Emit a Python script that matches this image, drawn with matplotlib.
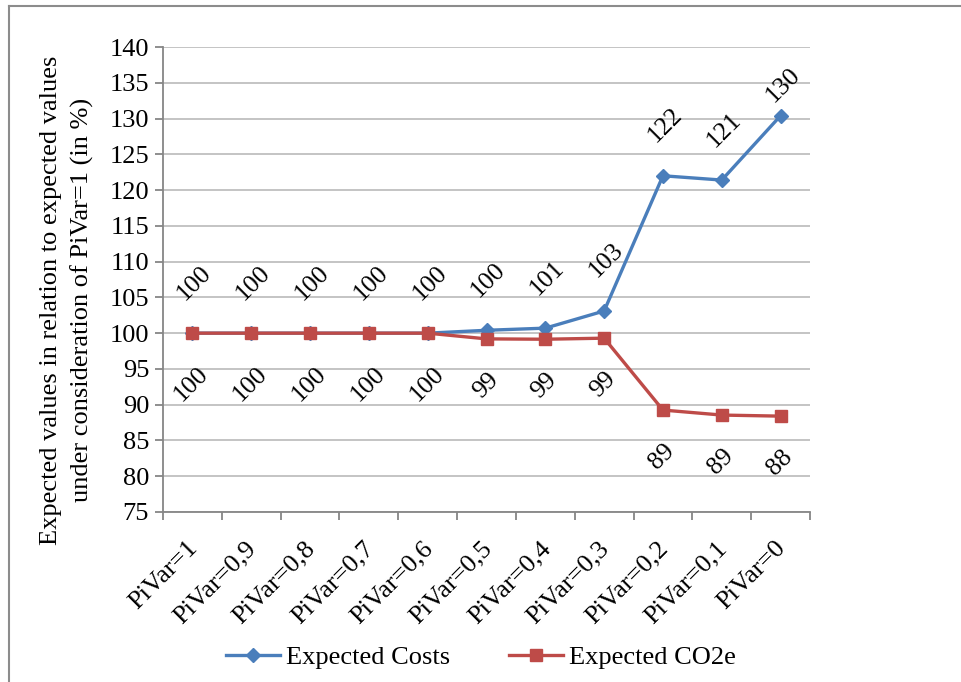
import matplotlib
matplotlib.use("Agg")
import matplotlib.pyplot as plt
from matplotlib.lines import Line2D

plt.rcParams['font.family'] = ['Liberation Serif', 'DejaVu Serif']
plt.rcParams['font.size'] = 19

# PiVar steps and expected values relative to PiVar=1 (in %)
categories = ['PiVar=1', 'PiVar=0,9', 'PiVar=0,8', 'PiVar=0,7', 'PiVar=0,6', 'PiVar=0,5',
              'PiVar=0,4', 'PiVar=0,3', 'PiVar=0,2', 'PiVar=0,1', 'PiVar=0']
costs = [100, 100, 100, 100, 100, 100.4, 100.7, 103.1, 122.0, 121.4, 130.4]
co2e = [100, 100, 100, 100, 100, 99.2, 99.15, 99.3, 89.25, 88.55, 88.4]
yticks = list(range(75, 141, 5))

blue = '#4A7EBB'
red = '#BE4B48'
axis_gray = '#868686'

fig = plt.figure(figsize=(9.62, 6.82), dpi=100)
ax = fig.add_axes([163/962, 1 - 512/682, (810 - 163)/962, (512 - 47)/682])

x = range(len(categories))
ax.plot(x, costs, color=blue, lw=2.4, marker='D', ms=7.5, zorder=3, label='Expected Costs')
ax.plot(x, co2e, color=red, lw=2.4, marker='s', ms=9, zorder=3, label='Expected CO2e')

ax.set_xlim(-0.5, len(categories) - 0.5)
ax.set_ylim(75, 140)

# data labels: costs above, CO2e below; labels near the top are kept inside the chart
label_ceiling = 682 - 107
for i in x:
    y_disp = ax.transData.transform((i, costs[i]))[1]
    off = min(29, label_ceiling - y_disp)
    ax.annotate(f'{costs[i]:.0f}', (i, costs[i]), xytext=(2, off), textcoords='offset pixels',
                rotation=45, ha='center', va='bottom', fontsize=18.5)
    ax.annotate(f'{co2e[i]:.0f}', (i, co2e[i]), xytext=(-1, -30), textcoords='offset pixels',
                rotation=45, ha='center', va='top', fontsize=18.5)

# category labels, slanted under each slot
ax.set_xticks(list(x))
ax.set_xticklabels([])
for i, cat in zip(x, categories):
    ax.annotate(cat, (i, 0), xycoords=ax.get_xaxis_transform(), xytext=(-6, -25),
                textcoords='offset pixels', rotation=45, ha='right', va='top',
                rotation_mode='anchor', fontsize=19)

ax.set_yticks(yticks)
ax.set_xticks([i - 0.5 for i in range(len(categories) + 1)], minor=True)
ax.tick_params(axis='x', which='major', length=0)
ax.tick_params(axis='x', which='minor', length=6, color=axis_gray, width=1.3)
ax.tick_params(axis='y', length=6, color=axis_gray, width=1.3, pad=4)

ax.yaxis.grid(True, color='#BFBFBF', lw=1.3)
ax.set_axisbelow(True)
for side in ['top', 'right']:
    ax.spines[side].set_visible(False)
for side in ['left', 'bottom']:
    ax.spines[side].set_color(axis_gray)
    ax.spines[side].set_linewidth(1.3)

fig.text(67/962, 1 - 300/682,
         'Expected values in relation to expected values\nunder consideration of PiVar=1 (in %)',
         rotation=90, ha='center', va='center', fontsize=19, linespacing=1.45)

handles = [Line2D([], [], color=blue, lw=2.4, marker='D', ms=7.5),
           Line2D([], [], color=red, lw=2.4, marker='s', ms=9)]
fig.legend(handles, ['Expected Costs', 'Expected CO2e'], loc='center',
           bbox_to_anchor=(481/962, 1 - 657/682), ncol=2, frameon=False,
           handlelength=2.05, handletextpad=0.25, columnspacing=2.2, fontsize=19)

# chart frame
fig.add_artist(Line2D([9/962, 9/962], [0, 1 - 6/682], color='#8C8C8C', lw=1.5))
fig.add_artist(Line2D([9/962, 1], [1 - 6/682, 1 - 6/682], color='#8C8C8C', lw=1.5))

fig.savefig('out.png', dpi=100)
